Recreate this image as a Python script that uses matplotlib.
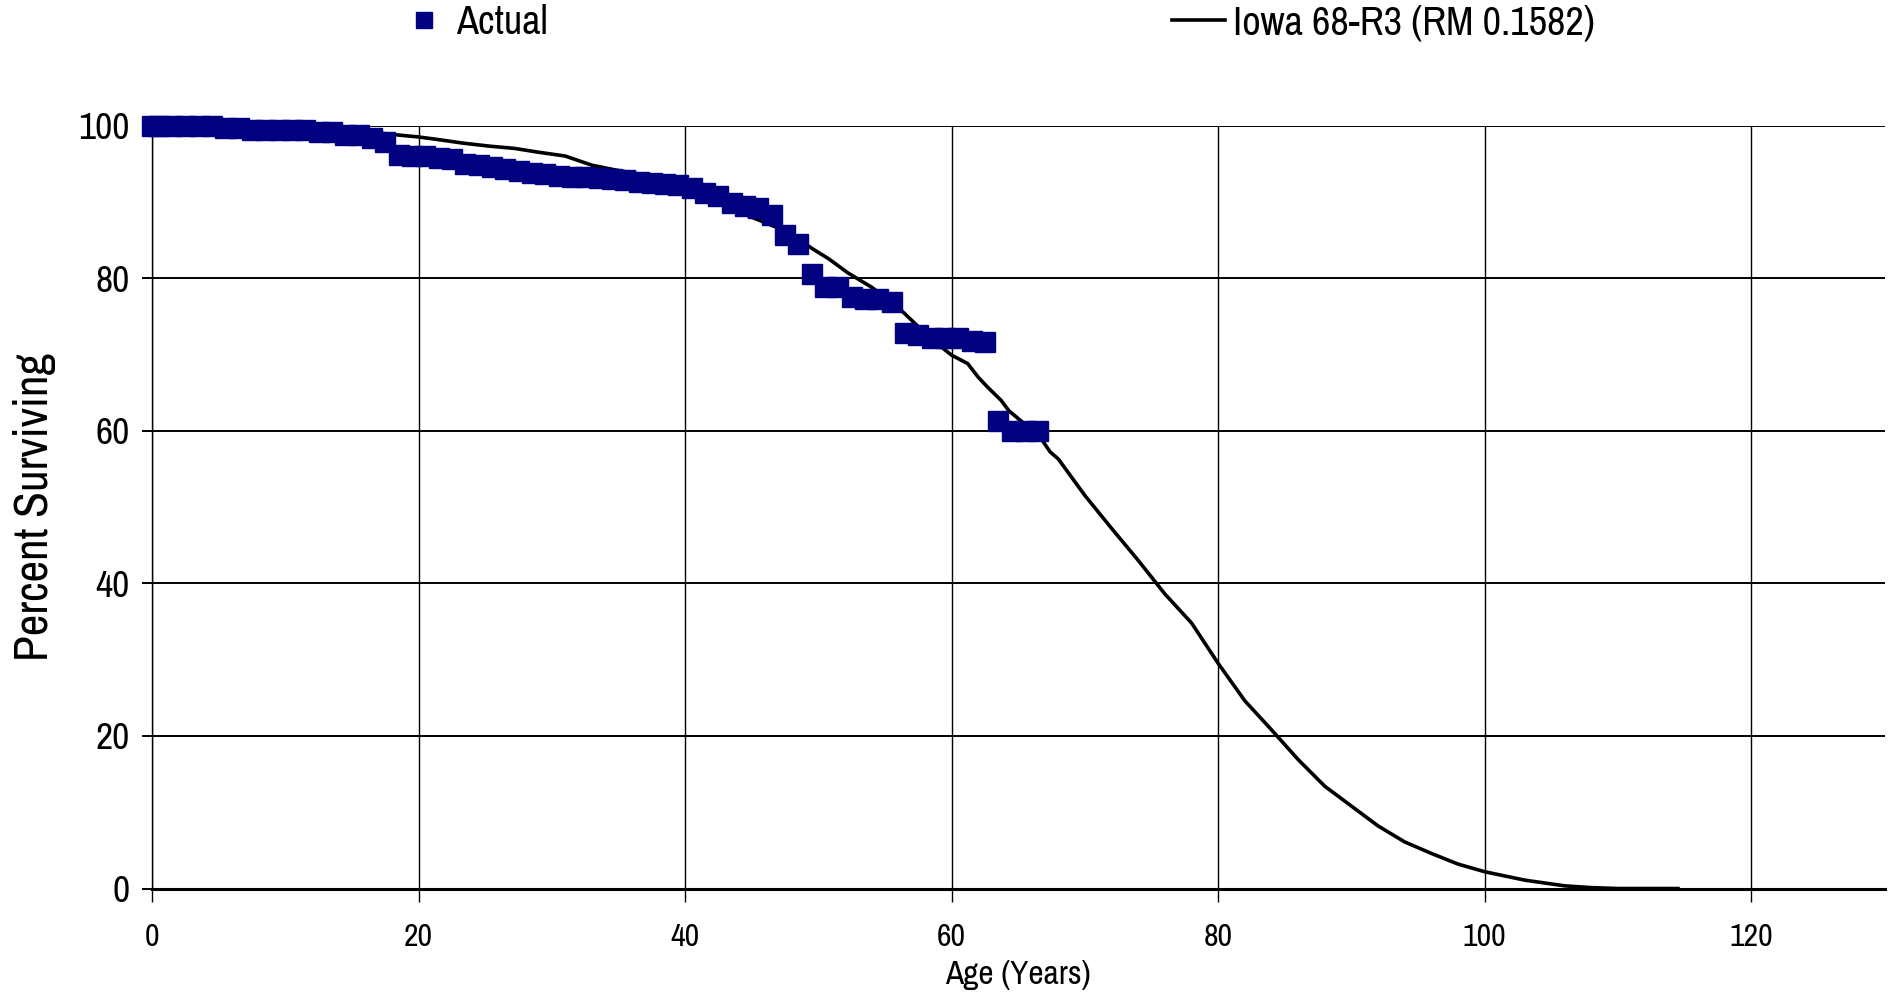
import matplotlib
matplotlib.use("Agg")
import matplotlib.pyplot as plt
from matplotlib.lines import Line2D
from matplotlib import font_manager

# observed survivors (percent) at each age bracket
actual_age = [0, 0.5] + [a + 0.5 for a in range(1, 67)]
actual_pct = [100.0, 100.0, 100.0, 99.9, 99.9, 99.9, 99.7, 99.7, 99.4, 99.4,
              99.4, 99.4, 99.4, 99.1, 99.1, 98.8, 98.8, 98.3, 97.8, 96.1,
              96.0, 96.0, 95.7, 95.6, 95.0, 94.8, 94.6, 94.3, 94.0, 93.8,
              93.7, 93.4, 93.3, 93.2, 93.1, 93.0, 92.8, 92.6, 92.5, 92.4,
              92.2, 91.8, 91.2, 90.7, 89.8, 89.5, 89.2, 88.3, 85.6, 84.5,
              80.5, 78.9, 78.8, 77.5, 77.3, 77.2, 76.9, 72.8, 72.5, 72.2,
              72.1, 72.1, 71.7, 71.6, 61.3, 59.9, 59.9, 59.9]

# fitted Iowa 68-R3 curve
iowa_age = [0, 5, 10, 15, 18.2, 20, 21.3, 23.3, 25.3, 27.2, 29, 31, 33, 34.7,
            36.7, 39, 40.7, 42.4, 44.7, 46.5, 47.6, 49.6, 50.8, 52.2, 54, 55.7,
            56.5, 57.7, 59.2, 60, 61.2, 62, 62.7, 63.7, 64.3, 65.4, 66.3, 67.4,
            68, 70, 72, 74, 76, 78, 80, 82, 84, 86, 88, 90, 92, 94, 96, 98,
            100, 103, 106, 108, 110, 114.5]
iowa_pct = [100, 100, 99.8, 99.4, 98.8, 98.5, 98.2, 97.7, 97.3, 97.0, 96.5,
            96.0, 94.8, 94.2, 93.6, 92.8, 91.4, 89.9, 88.2, 86.9, 86.2, 83.8,
            82.5, 80.7, 78.8, 76.6, 75.3, 73.3, 71.0, 69.9, 68.8, 67.0, 65.7,
            64.0, 62.6, 61.0, 60.0, 57.2, 56.3, 51.5, 47.2, 43.0, 38.6, 34.8,
            29.5, 24.6, 20.8, 16.9, 13.4, 10.8, 8.2, 6.1, 4.6, 3.2,
            2.2, 1.1, 0.35, 0.12, 0.0, 0.0]

xticks = [0, 20, 40, 60, 80, 100, 120]
yticks = [0, 20, 40, 60, 80, 100]

names = sorted({f.name for f in font_manager.fontManager.ttflist})
narrow = [n for n in names if 'Narrow' in n or 'Condensed' in n]
plt.rcParams['font.family'] = (narrow[:1] or []) + ['DejaVu Sans']
plt.rcParams['font.stretch'] = 'condensed'

navy = '#000080'

fig = plt.figure(figsize=(18.94, 9.97), dpi=100)
ax = fig.add_axes([0.0803, 0.1088, 0.9147, 0.7653])

ax.plot(iowa_age, iowa_pct, color='black', lw=2.6, zorder=3)
ax.plot(actual_age, actual_pct, linestyle='none', marker='s', markersize=14.5,
        color=navy, mec=navy, zorder=4, clip_on=False)

ax.set_xlim(0, 130)
ax.set_ylim(0, 100)
ax.set_xticks(xticks)
ax.set_yticks(yticks)
for x in xticks:
    ax.axvline(x, color='black', lw=1.0, zorder=1)
for y in yticks[1:]:
    ax.axhline(y, color='black', lw=1.4, zorder=1)

for s in ['top', 'right']:
    ax.spines[s].set_visible(False)
ax.spines['left'].set_linewidth(1.0)
ax.spines['bottom'].set_linewidth(2.2)

ax.tick_params(axis='x', direction='out', length=9, width=1.0, labelsize=23, pad=16)
ax.tick_params(axis='y', direction='out', length=7, width=1.4, labelsize=27, pad=9)

ax.set_xlabel('Age (Years)', fontsize=24, labelpad=6)
ax.set_ylabel('Percent Surviving', fontsize=34, labelpad=16)

h1 = Line2D([], [], linestyle='none', marker='s', markersize=12, color=navy)
h2 = Line2D([], [], color='black', lw=2.6)
fig.legend([h1], ['Actual'], loc='center left', bbox_to_anchor=(0.210, 0.977),
           frameon=False, fontsize=29, handlelength=1.3, handletextpad=0.15,
           borderpad=0, borderaxespad=0)
fig.legend([h2], ['Iowa 68-R3 (RM 0.1582)'], loc='center left',
           bbox_to_anchor=(0.619, 0.977), frameon=False, fontsize=29,
           handlelength=1.3, handletextpad=0.2, borderpad=0, borderaxespad=0)

fig.savefig('out.png', dpi=100)
